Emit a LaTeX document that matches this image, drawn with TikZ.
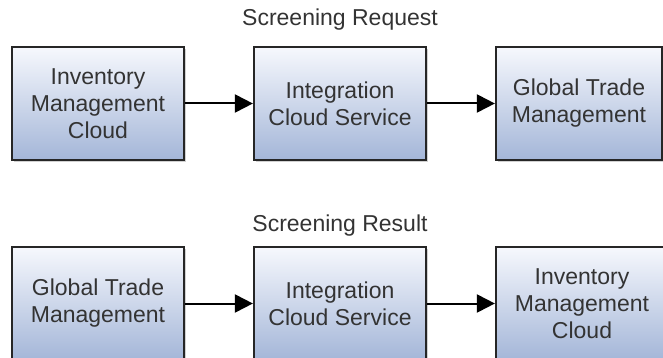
\documentclass[tikz,border=0pt]{standalone}
\usepackage{fontspec}
\setmainfont{Liberation Sans}
\usetikzlibrary{arrows.meta,shadows}
\definecolor{boxtop}{RGB}{246,248,253}
\definecolor{boxbottom}{RGB}{164,182,216}
\definecolor{textgray}{RGB}{51,51,51}
\begin{document}
\begin{tikzpicture}[x=1pt, y=-1pt, font=\fontsize{23}{27}\selectfont, text=textgray,
	box/.style={draw=black!85, line width=2.2pt, top color=boxtop, bottom color=boxbottom,
		minimum width=172pt, minimum height=113pt, inner sep=0pt, align=center,
		drop shadow={shadow xshift=2pt, shadow yshift=-2pt, opacity=0.3, fill=black!60}},
	flow/.style={-{Triangle[length=18pt, width=18pt]}, line width=2pt}]
	\useasboundingbox (0,0) rectangle (663,358);
	\clip (0,0) rectangle (663,358);
	% request
	\node (reqtitle) at (340,20) {Screening Request};
	\node[box] (reqinv) at (98,103.5) {Inventory\\Management\\Cloud};
	\node[box] (reqics) at (340,103.5) {Integration\\Cloud Service};
	\node[box, minimum width=166pt] (reqgtm) at (579,103.5) {Global Trade\\Management};
	\draw[flow] (reqinv) -- (reqics);
	\draw[flow] (reqics) -- (reqgtm);
	% result
	\node (restitle) at (340,226) {Screening Result};
	\node[box] (resgtm) at (98,303.5) {Global Trade\\Management};
	\node[box] (resics) at (340,303.5) {Integration\\Cloud Service};
	\node[box] (resinv) at (582,303.5) {Inventory\\Management\\Cloud};
	\draw[flow] (resgtm) -- (resics);
	\draw[flow] (resics) -- (resinv);
\end{tikzpicture}
\end{document}
